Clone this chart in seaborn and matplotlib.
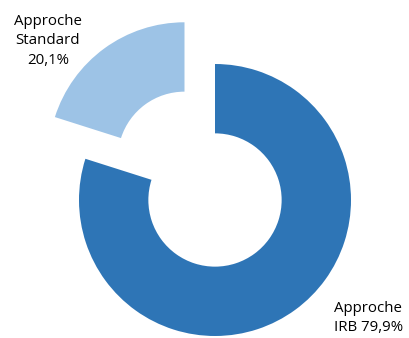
import matplotlib
matplotlib.use("Agg")
import matplotlib.pyplot as plt
import seaborn as sns

sns.set_theme(style="white")
plt.rcParams['font.family'] = ['Open Sans', 'DejaVu Sans']

categories = ["Approche IRB", "Approche Standard"]
values = [79.9, 20.1]
label_texts = ["Approche\nIRB 79,9%", "Approche\nStandard\n20,1%"]
colors = ["#2E75B6", "#9DC3E6"]

fig = plt.figure(figsize=(4.09, 3.38), dpi=100)
ax = fig.add_axes([0, 0, 1, 1])
ax.pie(values, colors=colors, startangle=90, counterclock=False,
       explode=[0, 0.38], radius=1.0,
       wedgeprops=dict(width=0.51, linewidth=0))
ax.set_aspect('auto')
ax.set_xlim(-215 / 136, (409 - 215) / 136)
ax.set_ylim(-(338 - 200) / 136, 200 / 136)
ax.axis('off')

def px(x, y):
    return ((x - 215) / 136, (200 - y) / 136)

ax.text(*px(48, 41), label_texts[1], ha='center', va='center',
        multialignment='center', fontsize=10.8, color='black', linespacing=1.38)
ax.text(*px(369, 318), label_texts[0], ha='center', va='center',
        multialignment='left', fontsize=10.8, color='black', linespacing=1.38)

fig.savefig("out.png", dpi=100)
